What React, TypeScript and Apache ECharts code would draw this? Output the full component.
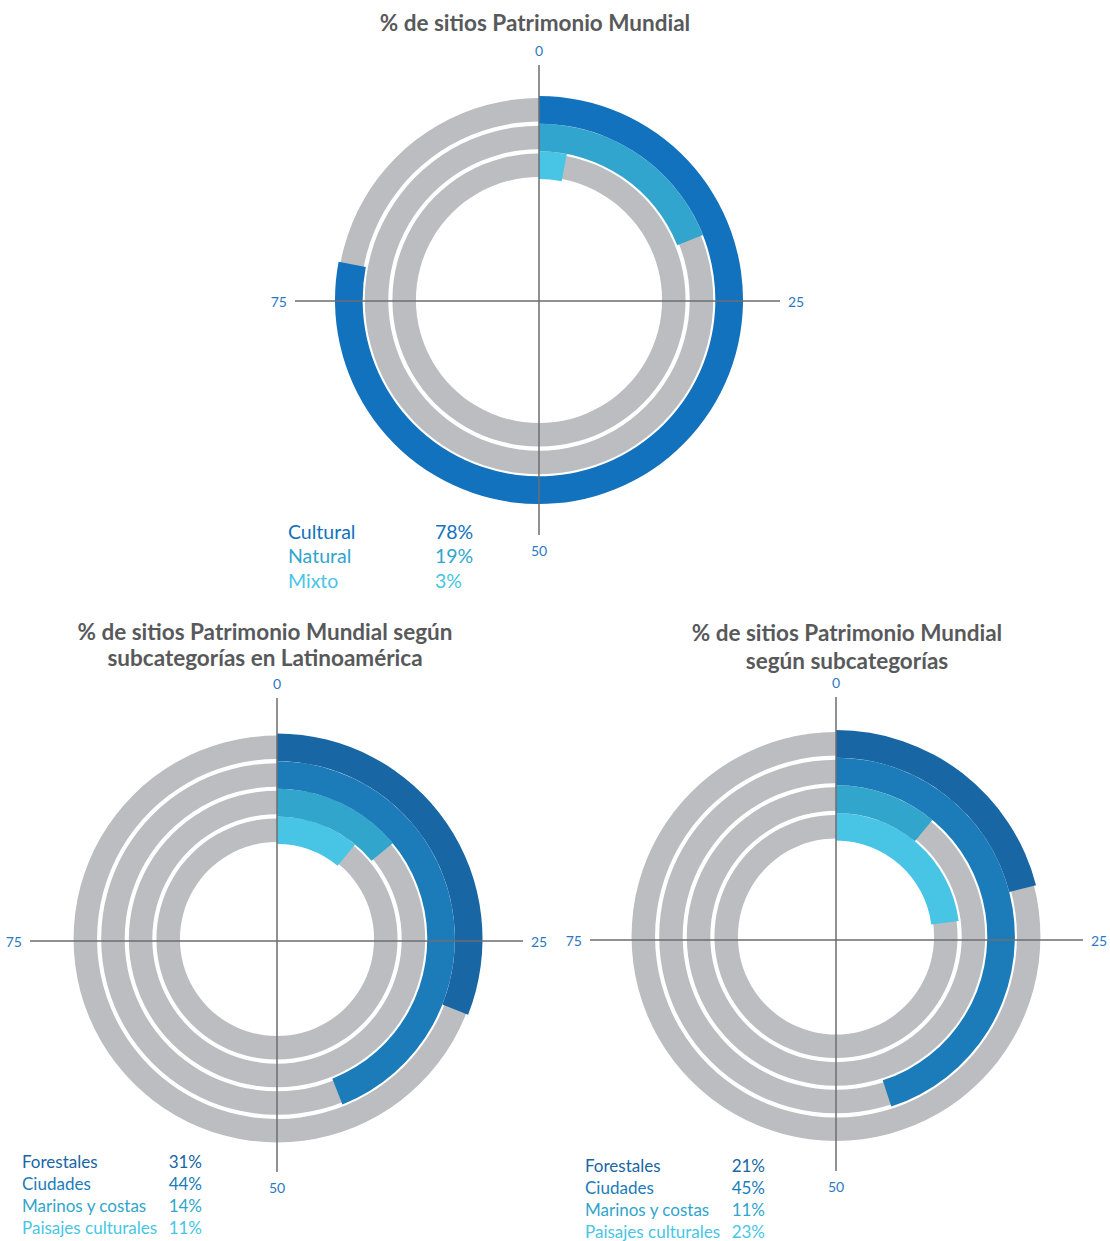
import React, { useEffect, useRef } from "react";
import * as echarts from "echarts";

// ---- Data ----
const topCategories = ["Mixto", "Natural", "Cultural"];
const topValues = [3, 19, 78];
const topColors = ["#48c5e5", "#31a5cd", "#1272bd"];

const latamCategories = ["Paisajes culturales", "Marinos y costas", "Ciudades", "Forestales"];
const latamValues = [11, 14, 44, 31];

const worldCategories = ["Paisajes culturales", "Marinos y costas", "Ciudades", "Forestales"];
const worldValues = [23, 11, 45, 21];

const subColors = ["#48c5e5", "#31a5cc", "#1b7cb9", "#1866a4"];

// tick labels of the reference cross: vertical line (top, bottom), horizontal line (right, left)
const verticalTickLabels = ["0", "50"];
const horizontalTickLabels = ["25", "75"];

const titleTop = ["% de sitios Patrimonio Mundial"];
const titleLatam = ["% de sitios Patrimonio Mundial según", "subcategorías en Latinoamérica"];
const titleWorld = ["% de sitios Patrimonio Mundial", "según subcategorías"];

const FONT = "Lato, 'Open Sans', sans-serif";
const GRAY = "#bcbdc0";
const AXIS = "#6d6e71";
const LABEL_BLUE = "#2b79c2";
const TITLE_COLOR = "#58595b";

type ChartSpec = {
  cats: string[];
  vals: number[];
  colors: string[];
  center: [number, number];
  inner: number;
  outer: number;
  vCenter: [number, number];
  vR: number;
  hCenter: [number, number];
  hR: number;
  legend: { x: number; y: number; valX: number; valAlign: string; gap: number; size: number };
  title: string[];
  titleX: number;
  titleY: number;
  titleGap: number;
};

const specs: ChartSpec[] = [
  {
    cats: topCategories,
    vals: topValues,
    colors: topColors,
    center: [539, 300],
    inner: 121,
    outer: 204,
    vCenter: [539, 300],
    vR: 235,
    hCenter: [537.5, 301],
    hR: 242.5,
    legend: { x: 288, y: 531, valX: 435, valAlign: "left", gap: 24.5, size: 19.5 },
    title: titleTop,
    titleX: 535,
    titleY: 22,
    titleGap: 26,
  },
  {
    cats: latamCategories,
    vals: latamValues,
    colors: subColors,
    center: [277, 939],
    inner: 95,
    outer: 205.5,
    vCenter: [277, 935],
    vR: 237,
    hCenter: [276.5, 941],
    hR: 246.5,
    legend: { x: 22, y: 1161, valX: 202, valAlign: "right", gap: 22, size: 17 },
    title: titleLatam,
    titleX: 265,
    titleY: 631,
    titleGap: 26,
  },
  {
    cats: worldCategories,
    vals: worldValues,
    colors: subColors,
    center: [836, 936.5],
    inner: 96,
    outer: 206.5,
    vCenter: [836, 934],
    vR: 237,
    hCenter: [836.5, 940],
    hR: 246.5,
    legend: { x: 585, y: 1165, valX: 765, valAlign: "right", gap: 22, size: 17 },
    title: titleWorld,
    titleX: 847,
    titleY: 632,
    titleGap: 28,
  },
];

function crossAxis(polarIndex: number, startAngle: number, labels: string[]) {
  return {
    polarIndex,
    type: "value",
    min: 0,
    max: 100,
    interval: 50,
    startAngle,
    clockwise: true,
    z: 10,
    axisLine: { show: false },
    axisTick: { show: false },
    splitLine: { show: true, lineStyle: { color: AXIS, width: 1.5 } },
    axisLabel: {
      show: true,
      margin: 8,
      color: LABEL_BLUE,
      fontSize: 14,
      fontFamily: FONT,
      formatter: (v: number) => (v === 0 ? labels[0] : v === 50 ? labels[1] : ""),
    },
  };
}

function buildOption() {
  const polar: any[] = [];
  const angleAxis: any[] = [];
  const radiusAxis: any[] = [];
  const series: any[] = [];
  const graphic: any[] = [];

  specs.forEach((s) => {
    const base = polar.length;
    polar.push({ center: s.center, radius: [s.inner, s.outer] }); // gray rings
    polar.push({ center: s.center, radius: [s.inner, s.outer] }); // colored rings
    polar.push({ center: s.vCenter, radius: [0, s.vR] }); // vertical axis line
    polar.push({ center: s.hCenter, radius: [0, s.hR] }); // horizontal axis line

    for (let k = 0; k < 2; k++) {
      angleAxis.push({
        polarIndex: base + k,
        type: "value",
        min: 0,
        max: 100,
        startAngle: 90,
        clockwise: true,
        show: false,
      });
      radiusAxis.push({
        polarIndex: base + k,
        type: "category",
        data: s.cats,
        show: false,
      });
    }
    angleAxis.push(crossAxis(base + 2, 90, verticalTickLabels));
    angleAxis.push(crossAxis(base + 3, 0, horizontalTickLabels));
    radiusAxis.push({ polarIndex: base + 2, type: "value", min: 0, max: 1, show: false });
    radiusAxis.push({ polarIndex: base + 3, type: "value", min: 0, max: 1, show: false });

    series.push({
      type: "bar",
      coordinateSystem: "polar",
      polarIndex: base,
      data: s.cats.map(() => 100),
      barCategoryGap: "15%",
      itemStyle: { color: GRAY },
      silent: true,
      z: 2,
    });
    series.push({
      type: "bar",
      coordinateSystem: "polar",
      polarIndex: base + 1,
      data: s.vals.map((v, i) => ({ value: v, itemStyle: { color: s.colors[i] } })),
      barCategoryGap: "0%",
      z: 3,
    });

    s.title.forEach((line, i) => {
      graphic.push({
        type: "text",
        x: s.titleX,
        y: s.titleY + i * s.titleGap,
        style: {
          text: line,
          fill: TITLE_COLOR,
          fontSize: 22.5,
          fontWeight: "bold",
          fontFamily: FONT,
          align: "center",
          verticalAlign: "middle",
        },
      });
    });

    const n = s.cats.length;
    for (let j = 0; j < n; j++) {
      const idx = n - 1 - j;
      const y = s.legend.y + j * s.legend.gap;
      graphic.push({
        type: "text",
        x: s.legend.x,
        y,
        style: {
          text: s.cats[idx],
          fill: s.colors[idx],
          fontSize: s.legend.size,
          fontFamily: FONT,
          align: "left",
          verticalAlign: "middle",
        },
      });
      graphic.push({
        type: "text",
        x: s.legend.valX,
        y,
        style: {
          text: s.vals[idx] + "%",
          fill: s.colors[idx],
          fontSize: s.legend.size,
          fontFamily: FONT,
          align: s.legend.valAlign,
          verticalAlign: "middle",
        },
      });
    }
  });

  return {
    animation: false,
    backgroundColor: "#ffffff",
    polar,
    angleAxis,
    radiusAxis,
    series,
    graphic,
  };
}

export default function App() {
  const ref = useRef<HTMLDivElement>(null);
  useEffect(() => {
    if (!ref.current) return;
    const chart = echarts.init(ref.current, undefined, { renderer: "svg" });
    chart.setOption(buildOption());
    return () => chart.dispose();
  }, []);
  return (
    <div
      ref={ref}
      style={{ position: "absolute", left: 0, top: 0, width: 1110, height: 1241 }}
    />
  );
}
